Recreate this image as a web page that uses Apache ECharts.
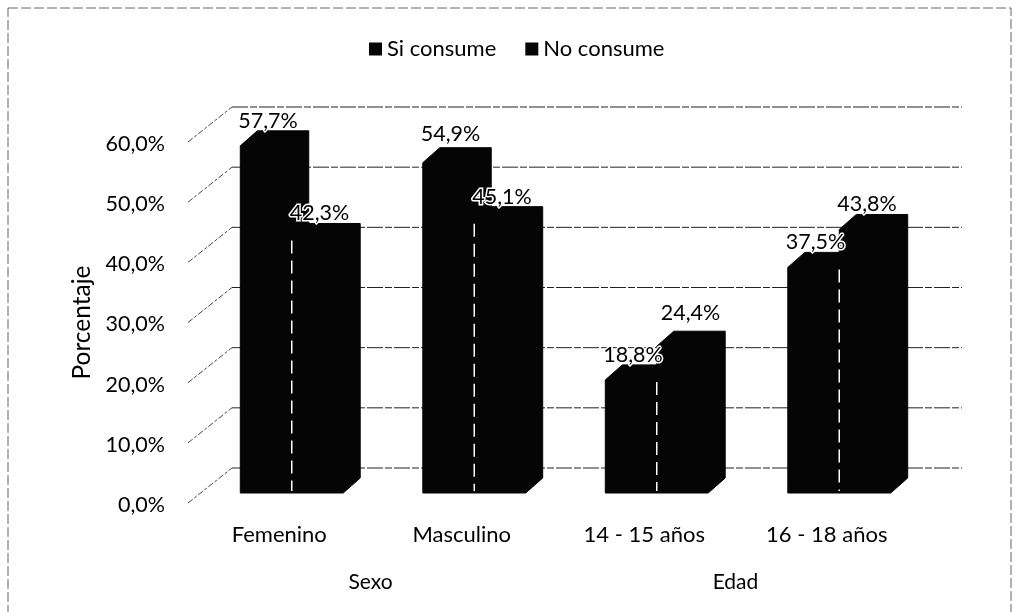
<!DOCTYPE html>
<html>
<head>
<meta charset="utf-8">
<style>html,body{margin:0;padding:0;background:#fff}#c{width:1015px;height:612px}</style>
<script src="https://cdn.jsdelivr.net/npm/echarts@6/dist/echarts.min.js"></script>
</head>
<body>
<div id="c"></div>
<script>
const categories = ['Femenino', 'Masculino', '14 - 15 años', '16 - 18 años'];
const groups = ['Sexo', 'Edad'];
const siConsume = [57.7, 54.9, 18.8, 37.5];
const noConsume = [42.3, 45.1, 24.4, 43.8];
const yTicks = [0, 10, 20, 30, 40, 50, 60];
const FONT = 'Lato, "Open Sans", sans-serif';

const fmt = v => v.toFixed(1).replace('.', ',') + '%';
const WALL_DX = 44, WALL_DY = -35;   // depth of the 3D wall
const BAR_SHIFT_X = 12.5, BAR_SHIFT_Y = -10; // bar front plane vs. axis plane
const BAR_DX = 17, BAR_DY = -15;     // depth of a bar
const BAR_FRACTION = 0.282;
// hand-placed data labels in the original: [dx, dy] by overlay row
const LABEL_NUDGE = { 1: [0, -4], 6: [6, -8] };

function gridRender(params, api) {
  const v = api.value(0);
  const p = api.coord([0, v]);
  const x0 = p[0] - api.size([1, 0])[0] / 2;
  const y = p[1];
  const gs = params.coordSys;
  const diag = { stroke: '#444', lineWidth: 1, lineDash: [6, 2, 3, 2] };
  const flat = { stroke: '#222', lineWidth: 1, lineDash: [16, 2, 7, 2] };
  return { type: 'group', children: [
    { type: 'line', shape: { x1: x0, y1: y, x2: x0 + WALL_DX, y2: y + WALL_DY }, style: diag },
    { type: 'line', shape: { x1: x0 + WALL_DX, y1: y + WALL_DY, x2: gs.x + gs.width + WALL_DX, y2: y + WALL_DY }, style: flat }
  ]};
}

function barGeom(api, side) {
  const cat = api.value(0), val = api.value(1);
  const w = api.size([1, 0])[0] * BAR_FRACTION;
  const c = api.coord([cat, val]);
  const b = api.coord([cat, 0]);
  const xl = c[0] + BAR_SHIFT_X + (side === 0 ? -w : 0);
  return { cat, val, w, xl, xr: xl + w, yt: c[1] + BAR_SHIFT_Y, yb: b[1] + BAR_SHIFT_Y };
}

function barRender(side) {
  return function (params, api) {
    const g = barGeom(api, side);
    const fill = api.visual('color');
    return {
      type: 'polygon',
      shape: { points: [[g.xl, g.yb], [g.xl, g.yt], [g.xl + BAR_DX, g.yt + BAR_DY], [g.xr + BAR_DX, g.yt + BAR_DY], [g.xr + BAR_DX, g.yb + BAR_DY], [g.xr, g.yb]] },
      style: { fill: fill, stroke: fill, lineWidth: 1 }
    };
  };
}

function overlayRender(params, api) {
  const side = api.value(3);
  const g = barGeom(api, side);
  const n = LABEL_NUDGE[params.dataIndex] || [0, 0];
  const kids = [];
  if (side === 1) {
    const top = api.coord([g.cat, Math.min(g.val, api.value(2))])[1] + BAR_SHIFT_Y;
    kids.push({ type: 'line', shape: { x1: g.xl, y1: top + 2, x2: g.xl, y2: g.yb - 2 },
      style: { stroke: '#fff', lineWidth: 1.5, lineDash: [13, 7] } });
  }
  kids.push({ type: 'text', z2: 10, style: {
    text: fmt(g.val), x: g.xl + g.w / 2 + 2 + n[0], y: g.yt + BAR_DY - 10 + n[1], align: 'center', verticalAlign: 'middle',
    font: '21.5px ' + FONT, fill: '#000', stroke: '#fff', lineWidth: 3
  }});
  return { type: 'group', children: kids };
}

const overlayData = [
  ...categories.map((c, i) => [i, siConsume[i], noConsume[i], 0]),
  ...categories.map((c, i) => [i, noConsume[i], siConsume[i], 1])
];

const chart = echarts.init(document.getElementById('c'), null, { renderer: 'canvas' });
chart.setOption({
  animation: false,
  backgroundColor: '#fff',
  textStyle: { fontFamily: FONT },
  legend: {
    top: 33, left: 364, icon: 'rect', itemWidth: 13, itemHeight: 13, itemGap: 29,
    textStyle: { fontSize: 22, color: '#000', fontFamily: FONT },
    data: ['Si consume', 'No consume']
  },
  grid: { left: 188, top: 142, width: 730, height: 361, containLabel: false },
  xAxis: [
    { type: 'category', data: categories, position: 'bottom',
      axisLine: { show: false }, axisTick: { show: false }, splitLine: { show: false },
      axisLabel: { fontSize: 22, color: '#000', fontFamily: FONT, margin: 21 } },
    { type: 'category', data: groups, position: 'bottom', offset: 69,
      axisLine: { show: false }, axisTick: { show: false }, splitLine: { show: false },
      axisLabel: { fontSize: 21, color: '#000', fontFamily: FONT, margin: 0 } }
  ],
  yAxis: {
    type: 'value', min: 0, max: 60, interval: 10,
    name: 'Porcentaje', nameLocation: 'middle', nameGap: 93, nameRotate: 90,
    nameTextStyle: { fontSize: 24.5, color: '#000', fontFamily: FONT },
    axisLine: { show: false }, axisTick: { show: false }, splitLine: { show: false },
    axisLabel: { fontSize: 21.5, color: '#000', fontFamily: FONT, margin: 23, verticalAlign: 'top', lineHeight: 4, formatter: v => fmt(v) }
  },
  series: [
    { type: 'custom', name: 'wall', silent: true, z: 1, renderItem: gridRender, encode: { y: 0 },
      data: yTicks.map(v => [v]), tooltip: { show: false } },
    { type: 'custom', name: 'No consume', z: 2, renderItem: barRender(1), itemStyle: { color: '#050505' },
      encode: { x: 0, y: 1 }, data: categories.map((c, i) => [i, noConsume[i]]) },
    { type: 'custom', name: 'Si consume', z: 3, renderItem: barRender(0), itemStyle: { color: '#050505' },
      encode: { x: 0, y: 1 }, data: categories.map((c, i) => [i, siConsume[i]]) },
    { type: 'custom', name: 'labels', silent: true, z: 5, renderItem: overlayRender,
      encode: { x: 0, y: 1 }, data: overlayData, tooltip: { show: false } }
  ],
  graphic: [{
    type: 'rect', silent: true, z: -1,
    shape: { x: 8, y: 8, width: 1003, height: 620 },
    style: { fill: 'none', stroke: '#666', lineWidth: 1, lineDash: [10, 3] }
  }]
});
</script>
</body>
</html>
